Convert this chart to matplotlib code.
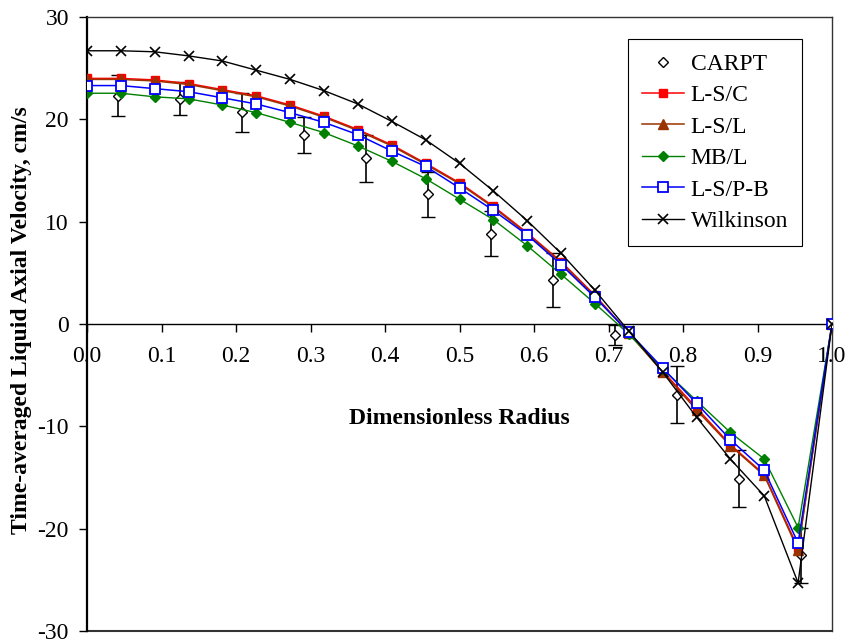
import matplotlib
matplotlib.use('Agg')
import matplotlib.pyplot as plt
from matplotlib.lines import Line2D

# model grid (dimensionless radius)
r_model = [0.0, 0.0455, 0.0909, 0.1364, 0.1818, 0.2273, 0.2727, 0.3182, 0.3636, 0.4091,
           0.4545, 0.5, 0.5455, 0.5909, 0.6364, 0.6818, 0.7273, 0.7727, 0.8182, 0.8636,
           0.9091, 0.9545, 1.0]

ls_c = [24.0, 24.0, 23.85, 23.5, 22.9, 22.3, 21.4, 20.3, 19.0, 17.5,
        15.7, 13.8, 11.5, 8.9, 6.1, 2.8, -0.9, -4.6, -8.2, -11.8,
        -14.7, -21.9, 0.0]
ls_l = [23.9, 23.9, 23.75, 23.4, 22.8, 22.2, 21.3, 20.2, 18.9, 17.4,
        15.6, 13.7, 11.4, 8.8, 6.0, 2.7, -0.9, -4.7, -8.4, -11.9,
        -14.8, -22.1, 0.0]
mb_l = [22.55, 22.55, 22.2, 22.0, 21.4, 20.65, 19.7, 18.7, 17.4, 15.9,
        14.2, 12.2, 10.2, 7.65, 4.85, 2.0, -1.0, -4.4, -7.5, -10.6,
        -13.2, -19.9, 0.0]
ls_pb = [23.3, 23.3, 23.0, 22.7, 22.1, 21.5, 20.65, 19.7, 18.5, 16.9,
         15.4, 13.3, 11.1, 8.7, 5.8, 2.6, -0.8, -4.3, -7.75, -11.3,
         -14.3, -21.4, 0.0]
wilkinson = [26.7, 26.7, 26.6, 26.2, 25.7, 24.8, 23.9, 22.8, 21.5, 19.8,
             18.0, 15.7, 13.0, 10.1, 6.9, 3.3, -0.7, -4.7, -9.1, -13.2,
             -16.8, -25.3, 0.0]

# CARPT measurements with error bars
r_carpt = [0.0417, 0.125, 0.2083, 0.2917, 0.375, 0.4583, 0.5417, 0.625, 0.7083, 0.7917,
           0.875, 0.9583]
carpt = [22.3, 22.0, 20.7, 18.5, 16.2, 12.7, 8.8, 4.3, -1.1, -6.9, -15.1, -22.6]
carpt_err = [2.0, 1.6, 1.9, 1.75, 2.3, 2.2, 2.2, 2.6, 1.0, 2.8, 2.8, 2.7]

y_ticks = [-30, -20, -10, 0, 10, 20, 30]
x_ticks = [0.0, 0.1, 0.2, 0.3, 0.4, 0.5, 0.6, 0.7, 0.8, 0.9, 1.0]

plt.rcParams['font.family'] = ['Liberation Serif', 'DejaVu Serif']
plt.rcParams['font.size'] = 17
plt.rcParams['axes.unicode_minus'] = False

fig = plt.figure(figsize=(8.5, 6.43), dpi=100)
ax = fig.add_axes([87 / 850, 12 / 643, 745 / 850, 614 / 643])

ax.errorbar(r_carpt, carpt, yerr=carpt_err, fmt='D', color='black', mfc='white', mec='black',
            ms=5.5, mew=1.0, ecolor='black', elinewidth=1.2, capsize=5, capthick=1.2,
            zorder=3)
h_c, = ax.plot(r_model, ls_c, color='#ff0000', lw=1.1, marker='s', ms=6, mfc='#ff0000',
               mec='#ff0000', label='L-S/C', zorder=4)
h_l, = ax.plot(r_model, ls_l, color='#993300', lw=1.1, marker='^', ms=6.5, mfc='#993300',
               mec='#993300', label='L-S/L', zorder=5)
h_mb, = ax.plot(r_model, mb_l, color='#008000', lw=1.0, marker='D', ms=5, mfc='#008000',
                mec='#008000', label='MB/L', zorder=6)
h_pb, = ax.plot(r_model, ls_pb, color='#0000ff', lw=1.1, marker='s', ms=6.5, mfc='white',
                mec='#0000ff', mew=1.3, label='L-S/P-B', zorder=7)
h_w, = ax.plot(r_model, wilkinson, color='black', lw=1.0, marker='x', ms=7.5, mew=1.2,
               label='Wilkinson', zorder=8)
h_carpt = Line2D([], [], linestyle='none', marker='D', ms=5.5, mfc='white', mec='black',
                 mew=1.0, label='CARPT')

ax.set_xlim(0, 1)
ax.set_ylim(-30, 30)
ax.set_xticks(x_ticks)
ax.set_xticklabels([f'{t:.1f}' for t in x_ticks])
ax.set_yticks(y_ticks)

# x axis runs through y = 0, frame drawn around plot area
ax.spines['bottom'].set_position(('data', 0))
ax.spines['bottom'].set_linewidth(1.0)
ax.spines['left'].set_linewidth(1.6)
for side in ['top', 'right']:
    ax.spines[side].set_color('#333333')
    ax.spines[side].set_linewidth(1.0)
ax.plot([0, 1], [-30, -30], color='#333333', lw=1.5, clip_on=False, zorder=1)

ax.tick_params(axis='y', direction='out', length=6, width=1.0, pad=7)
ax.tick_params(axis='x', direction='out', length=6, width=1.0, pad=10)

ax.text(0.5, -9.2, 'Dimensionless Radius', ha='center', va='center', fontweight='bold')
fig.text(22 / 850, 1 - 320 / 643, 'Time-averaged Liquid Axial Velocity, cm/s', rotation=90,
         ha='center', va='center', fontweight='bold')

leg = ax.legend(handles=[h_carpt, h_c, h_l, h_mb, h_pb, h_w],
                loc='upper right', bbox_to_anchor=(0.96, 0.964), borderaxespad=0,
                frameon=True, fancybox=False, edgecolor='black', framealpha=1,
                handlelength=1.75, handletextpad=0.3, labelspacing=0.42, borderpad=0.6)
leg.get_frame().set_linewidth(0.8)

fig.savefig('out.png', dpi=100)
